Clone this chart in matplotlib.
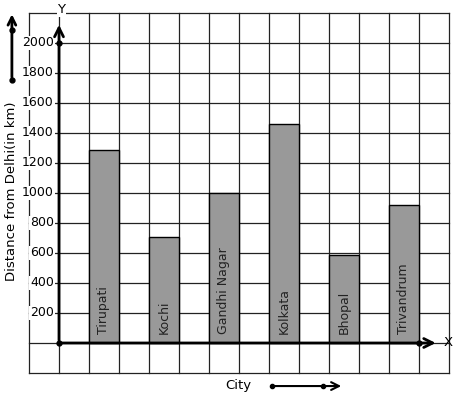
import matplotlib
matplotlib.use("Agg")
import matplotlib.pyplot as plt

# data
cities = ["Tirupati", "Kochi", "Gandhi Nagar", "Kolkata", "Bhopal", "Trivandrum"]
distances = [1285, 710, 1000, 1460, 585, 920]
y_ticks = [200, 400, 600, 800, 1000, 1200, 1400, 1600, 1800, 2000]

# one grid column = 1 unit on x, one grid row = 200 on y
# pixel x = 59 + 30*col, pixel y = 343 - 30*v/200
fig = plt.figure(figsize=(4.57, 3.99), dpi=100)
ax = fig.add_axes([0, 0, 1, 1])
ax.set_xlim(-59 / 30, (457 - 59) / 30)
ax.set_ylim(-(399 - 343) * 200 / 30, 343 * 200 / 30)
ax.axis("off")

grid_c = "#222222"
# grid squares
for c in range(-1, 14):
    ax.plot([c, c], [-200, 2200], color=grid_c, lw=0.9, zorder=1)
for r in range(-200, 2400, 200):
    ax.plot([-1, 13], [r, r], color=grid_c, lw=0.9, zorder=1)

# bars with names written inside
xs = [1 + 2 * i for i in range(len(cities))]
ax.bar(xs, distances, width=1, align="edge", color="#999999",
       edgecolor="black", lw=1, zorder=2)
for x, name in zip(xs, cities):
    ax.text(x + 0.5, 60, name, rotation=90, ha="center", va="bottom",
            fontsize=9, color="#222222", zorder=3)

# y tick labels (white boxes hide the grid behind them)
for v in y_ticks:
    ax.text(-0.17, v, str(v), ha="right", va="center", fontsize=9,
            bbox=dict(facecolor="white", edgecolor="none", pad=0.5), zorder=4)

# main axes with arrows
arr = dict(arrowstyle="->", lw=2, color="black", mutation_scale=16)
ax.annotate("", xy=(0, 2140), xytext=(0, 0), arrowprops=arr, zorder=5)
ax.annotate("", xy=(12.65, 0), xytext=(0, 0), arrowprops=arr, zorder=5)
ax.plot([0, 0, 12], [0, 2000, 0], "o", color="black", ms=3.5, zorder=6)
ax.text(0.08, 2220, "Y", ha="center", va="center", fontsize=9.5,
        bbox=dict(facecolor="white", edgecolor="none", pad=0.5), zorder=6)
ax.text(12.97, 0, "X", ha="center", va="center", fontsize=9.5, zorder=6)

# axis titles with little arrows
ax.text(-1.57, 1010, "Distance from Delhi(in km)", rotation=90,
        ha="center", va="center", fontsize=9.5)
ax.annotate("", xy=(-1.57, 2210), xytext=(-1.57, 1753),
            arrowprops=dict(arrowstyle="->", lw=2, color="black", mutation_scale=14))
ax.plot([-1.57, -1.57], [1753, 2087], "o", color="black", ms=3.5)

ax.text(5.97, -280, "City", ha="center", va="center", fontsize=9.5)
ax.annotate("", xy=(9.5, -287), xytext=(7.1, -287),
            arrowprops=dict(arrowstyle="->", lw=1.5, color="black", mutation_scale=14))
ax.plot([7.1, 8.8], [-287, -287], "o", color="black", ms=3)

fig.savefig("out.png", dpi=100)
